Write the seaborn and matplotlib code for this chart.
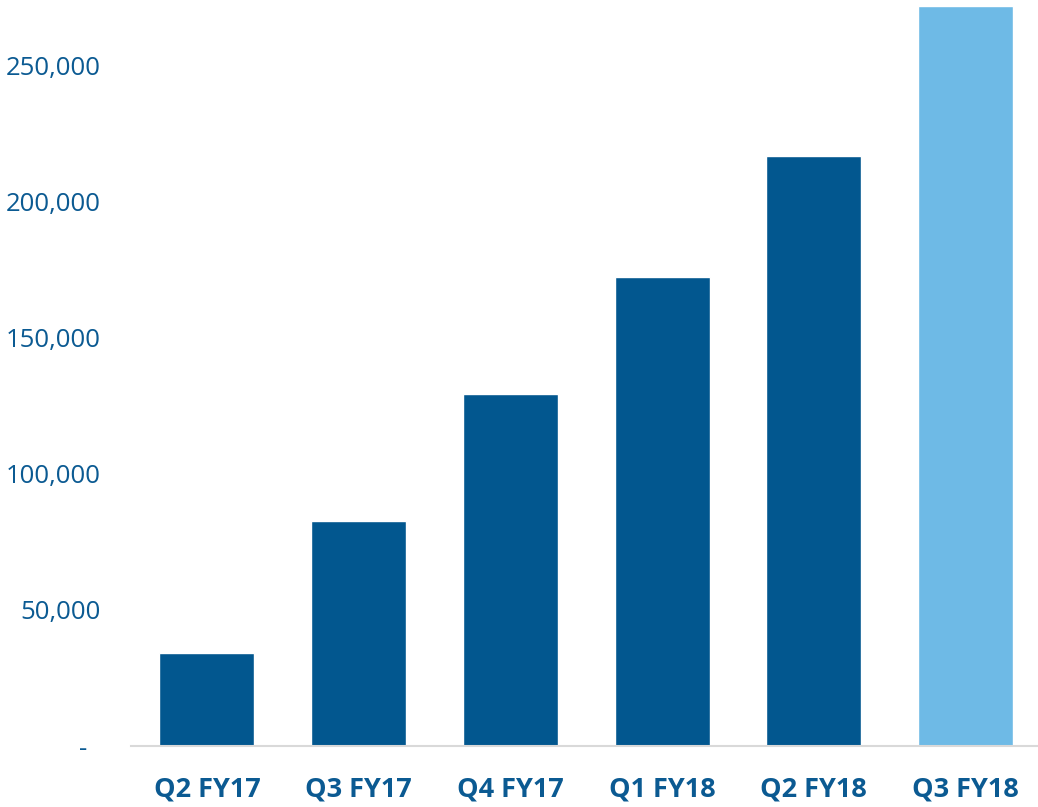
import matplotlib
matplotlib.use("Agg")
import matplotlib.pyplot as plt
import seaborn as sns
import pandas as pd
from matplotlib.ticker import FuncFormatter

categories = ["Q2 FY17", "Q3 FY17", "Q4 FY17", "Q1 FY18", "Q2 FY18", "Q3 FY18"]
values = [34200, 82700, 129400, 172400, 216900, 272000]
yticks = [0, 50000, 100000, 150000, 200000, 250000]

dark = "#02578F"
light = "#6EBAE6"
text_color = "#0B5A92"

sns.set_theme(style="white")
plt.rcParams['font.family'] = ['Open Sans', 'DejaVu Sans']

df = pd.DataFrame({"quarter": categories, "value": values})
palette = {c: dark for c in categories}
palette[categories[-1]] = light

fig = plt.figure(figsize=(10.38, 8.07), dpi=100)
ax = fig.add_axes([131/1038, 61/807, 910.5/1038, 740/807])
sns.barplot(data=df, x="quarter", y="value", hue="quarter", palette=palette,
            width=0.625, saturation=1, legend=False, ax=ax)

ax.set_xlim(-0.5, 5.5)
ax.set_ylim(0, 272000)
ax.set_yticks(yticks)
ax.yaxis.set_major_formatter(FuncFormatter(lambda v, p: "-  " if v == 0 else f"{int(v):,}"))
ax.set_xlabel("")
ax.set_ylabel("")
for s in ["top", "right", "left"]:
    ax.spines[s].set_visible(False)
ax.spines["bottom"].set_color("#D9D9D9")
ax.spines["bottom"].set_linewidth(1.5)
ax.tick_params(axis="y", length=0, pad=22, labelsize=18.5, labelcolor=text_color)
ax.tick_params(axis="x", length=0, pad=22, labelsize=19.5, labelcolor=text_color)
for lab in ax.get_xticklabels():
    lab.set_fontweight("bold")
ax.grid(False)

fig.savefig("out.png", dpi=100)
